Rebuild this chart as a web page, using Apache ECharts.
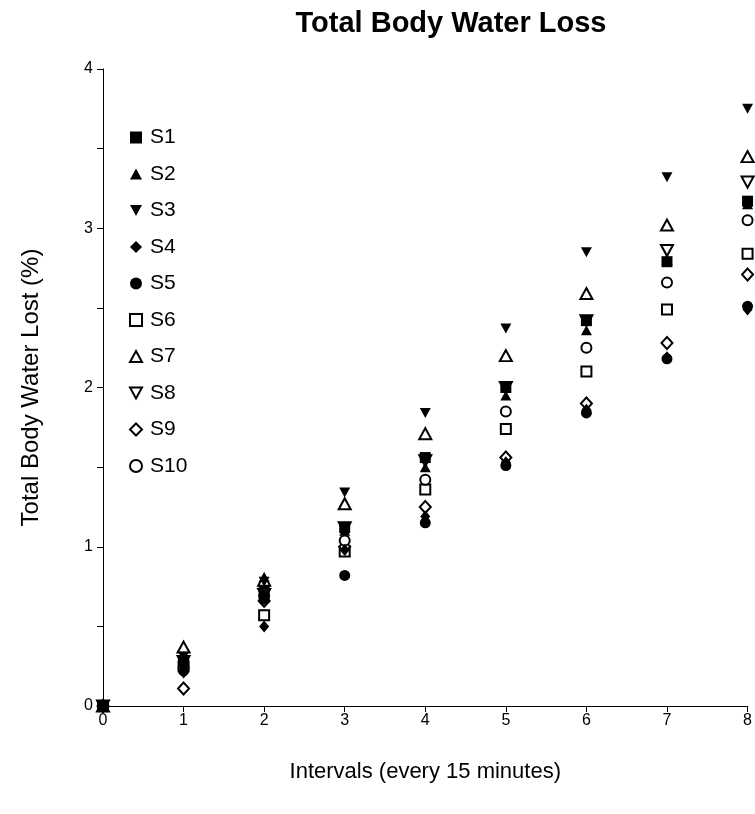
<!DOCTYPE html>
<html><head><meta charset="utf-8">
<script src="https://cdn.jsdelivr.net/npm/echarts@6/dist/echarts.min.js"></script>
<style>html,body{margin:0;padding:0;background:#fff}#c{width:755px;height:814px}</style>
</head><body><div id="c"></div>
<script>
const intervals = [0,1,2,3,4,5,6,7,8];
const xTicks = ['0','1','2','3','4','5','6','7','8'];
const yTicks = ['0','1','2','3','4'];
const S1  = [0, 0.28, 0.72, 1.12, 1.56, 2.00, 2.42, 2.79, 3.17];
const S2  = [0, 0.30, 0.81, 1.10, 1.50, 1.95, 2.36, 2.80, 3.15];
const S3  = [0, 0.31, 0.78, 1.34, 1.84, 2.37, 2.85, 3.32, 3.75];
const S4  = [0, 0.21, 0.50, 0.98, 1.19, 1.53, 1.86, 2.19, 2.49];
const S5  = [0, 0.22, 0.67, 0.82, 1.15, 1.51, 1.84, 2.18, 2.51];
const S6  = [0, 0.25, 0.57, 0.97, 1.36, 1.74, 2.10, 2.49, 2.84];
const S7  = [0, 0.37, 0.79, 1.27, 1.71, 2.20, 2.59, 3.02, 3.45];
const S8  = [0, 0.28, 0.70, 1.12, 1.54, 2.00, 2.42, 2.86, 3.29];
const S9  = [0, 0.11, 0.66, 1.00, 1.25, 1.56, 1.90, 2.28, 2.71];
const S10 = [0, 0.24, 0.69, 1.04, 1.42, 1.85, 2.25, 2.66, 3.05];
const seriesNames = ['S1','S2','S3','S4','S5','S6','S7','S8','S9','S10'];
const seriesValues = [S1,S2,S3,S4,S5,S6,S7,S8,S9,S10];

const DOWN = 'path://M0,0 L10,0 L5,9 Z';
const UP = 'path://M5,0 L10,9 L0,9 Z';
const styles = [
  {symbol:'rect', filled:true, size:11, z:6},
  {symbol:UP, filled:true, size:[11,10], z:5},
  {symbol:DOWN, filled:true, size:[11,10], z:5},
  {symbol:'diamond', filled:true, size:[10,12], z:5},
  {symbol:'circle', filled:true, size:11, z:5},
  {symbol:'rect', filled:false, size:10, z:3},
  {symbol:UP, filled:false, size:[12,11], z:3},
  {symbol:DOWN, filled:false, size:[12,11], z:3},
  {symbol:'diamond', filled:false, size:[11,12], z:3},
  {symbol:'circle', filled:false, size:10, z:3}
];

const series = seriesNames.map((n,i)=>{
  const st = styles[i];
  return {
    name:n, type:'scatter', z:st.z,
    symbol:st.symbol, symbolSize:st.size,
    itemStyle: st.filled ? {color:'#000', borderWidth:0, opacity:1} : {color:'#fff', borderColor:'#000', borderWidth:2, opacity:1},
    emphasis:{disabled:true},
    data: intervals.map((x,j)=>[x, seriesValues[i][j]])
  };
});

const chart = echarts.init(document.getElementById('c'));
chart.setOption({
  animation:false,
  backgroundColor:'#fff',
  title:{text:'Total Body Water Loss', left:446, textAlign:'center', top:4,
    textStyle:{fontFamily:'Liberation Sans, Arial', fontWeight:'bold', fontSize:29, color:'#000'}},
  legend:{orient:'vertical', left:124, top:122, itemGap:15.5, itemWidth:12, itemHeight:12,
    data:seriesNames,
    textStyle:{fontFamily:'Liberation Sans, Arial', fontSize:21, color:'#000', padding:[0,0,0,3]}},
  grid:{left:103, right:4, top:69, bottom:108},
  xAxis:{type:'value', min:0, max:8, interval:1,
    name:'Intervals (every 15 minutes)', nameLocation:'middle', nameGap:55,
    nameTextStyle:{fontFamily:'Liberation Sans, Arial', fontSize:22, color:'#000'},
    axisLine:{lineStyle:{color:'#000', width:1}},
    axisTick:{show:true, length:6, lineStyle:{color:'#000'}},
    axisLabel:{color:'#000', fontSize:16, fontFamily:'Liberation Sans, Arial', margin:7,
      formatter:v=>xTicks[v]},
    splitLine:{show:false}},
  yAxis:{type:'value', min:0, max:4, interval:1,
    name:'Total Body Water Lost (%)', nameLocation:'middle', nameGap:60,
    nameTextStyle:{fontFamily:'Liberation Sans, Arial', fontSize:24, color:'#000'},
    axisLine:{show:true, lineStyle:{color:'#000', width:1}},
    axisTick:{show:true, length:6, lineStyle:{color:'#000'}},
    minorTick:{show:true, splitNumber:2, length:6, lineStyle:{color:'#000'}},
    axisLabel:{color:'#000', fontSize:16, fontFamily:'Liberation Sans, Arial', margin:10,
      formatter:v=>yTicks[v]},
    splitLine:{show:false}},
  series:series
});
</script></body></html>
